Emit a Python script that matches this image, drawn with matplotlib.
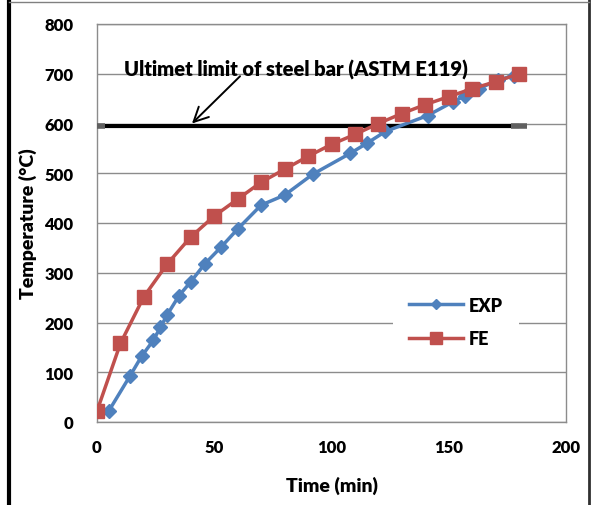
import matplotlib.pyplot as plt
from matplotlib.lines import Line2D

# Temperature rise, experiment vs. finite element model
exp_time = [5, 14, 19, 24, 27, 30, 35, 40, 46, 53, 60, 70, 80, 92, 108, 115, 123, 141, 152, 157, 163, 171, 178]
exp_temp = [22, 92, 132, 164, 190, 216, 254, 282, 318, 352, 388, 436, 456, 498, 540, 560, 584, 616, 644, 656, 670, 688, 696]

fe_time = [0, 10, 20, 30, 40, 50, 60, 70, 80, 90, 100, 110, 120, 130, 140, 150, 160, 170, 180]
fe_temp = [22, 158, 252, 318, 372, 414, 448, 482, 508, 534, 558, 578, 600, 620, 638, 654, 670, 684, 700]

limit_time = [0, 180]
limit_temp = [594, 594]

x_ticks = [0, 50, 100, 150, 200]
y_ticks = [0, 100, 200, 300, 400, 500, 600, 700, 800]

plt.rcParams['font.family'] = ['Lato', 'DejaVu Sans']

BLUE = '#4F81BD'
RED = '#C0504D'
W = 'heavy'

fig = plt.figure(figsize=(5.97, 5.06), dpi=100)
ax = fig.add_axes([97 / 597, 1 - 423 / 506, (566 - 97) / 597, (423 - 25) / 506])

ax.plot(limit_time, limit_temp, color='black', lw=3, marker='_', ms=11, mew=4,
        mec='#606060', zorder=3, solid_capstyle='butt')
exp_line, = ax.plot(exp_time, exp_temp, color=BLUE, lw=2.5, marker='D', ms=7,
                    mfc=BLUE, mec=BLUE, zorder=4, label='EXP')
fe_line, = ax.plot(fe_time, fe_temp, color=RED, lw=2.5, marker='s', ms=10,
                   mfc=RED, mec=RED, zorder=5, label='FE')

ax.set_xlim(0, 200)
ax.set_ylim(0, 800)
ax.set_xticks(x_ticks)
ax.set_yticks(y_ticks)
ax.tick_params(length=0, labelsize=12)
ax.tick_params(axis='x', pad=12)
ax.tick_params(axis='y', pad=17)
for lab in ax.get_xticklabels() + ax.get_yticklabels():
    lab.set_fontweight(W)
ax.yaxis.grid(True, color='#8c8c8c', lw=1)
ax.set_axisbelow(True)
for sp in ax.spines.values():
    sp.set_color('#8c8c8c')
    sp.set_linewidth(1)

ax.set_xlabel('Time (min)', fontsize=14, fontweight=W, labelpad=15)
ax.set_ylabel('Temperature (°C)', fontsize=14, fontweight=W, labelpad=5)

ax.text(85, 710, 'Ultimet limit of steel bar (ASTM E119)', ha='center', va='center',
        fontsize=14.5, fontweight=W, zorder=6)
ax.annotate('', xy=(40.5, 600), xytext=(61, 695),
            arrowprops=dict(arrowstyle='->', color='black', lw=1.4,
                            mutation_scale=26, shrinkA=0, shrinkB=0),
            zorder=6)

leg = ax.legend(handles=[exp_line, fe_line], loc='center',
                bbox_to_anchor=(0.765, 0.252), frameon=True, fontsize=13,
                handlelength=3.0, handletextpad=0.3, labelspacing=0.9,
                borderpad=0.9, borderaxespad=0, markerscale=0.8)
leg.get_frame().set_edgecolor('none')
leg.get_frame().set_facecolor('white')
leg.get_frame().set_alpha(1)
for t in leg.get_texts():
    t.set_fontweight(W)

# figure border lines
fig.add_artist(Line2D([9 / 597, 9 / 597], [0, 1], transform=fig.transFigure, color='black', lw=3))
fig.add_artist(Line2D([589 / 597, 589 / 597], [0, 1], transform=fig.transFigure, color='#303030', lw=2))
fig.add_artist(Line2D([9 / 597, 589 / 597], [1 - 3 / 506, 1 - 3 / 506], transform=fig.transFigure,
                      color='#808080', lw=1))

fig.savefig('out.png', dpi=100)
